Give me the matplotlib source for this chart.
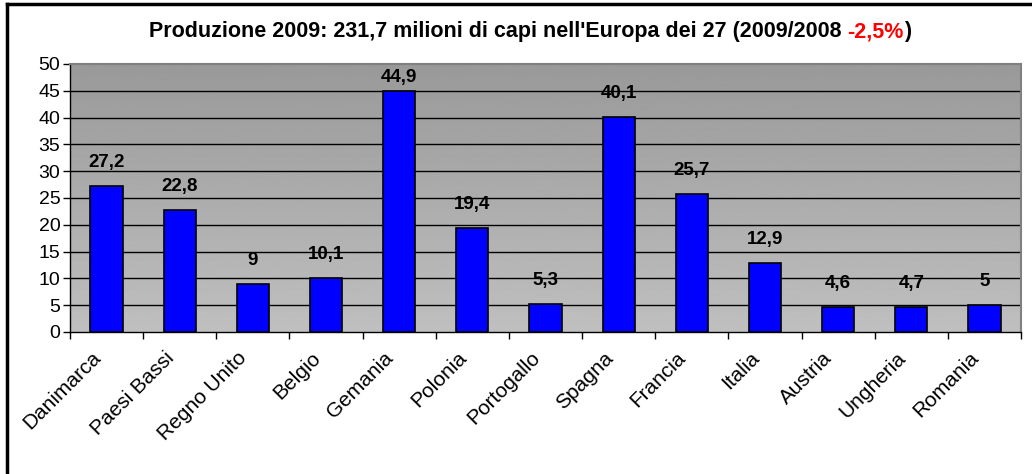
import numpy as np
import matplotlib.pyplot as plt
from matplotlib.lines import Line2D

plt.rcParams['font.family'] = ['Liberation Sans', 'DejaVu Sans']

paesi = ['Danimarca', 'Paesi Bassi', 'Regno Unito', 'Belgio', 'Gemania', 'Polonia',
         'Portogallo', 'Spagna', 'Francia', 'Italia', 'Austria', 'Ungheria', 'Romania']
valori = [27.2, 22.8, 9, 10.1, 44.9, 19.4, 5.3, 40.1, 25.7, 12.9, 4.6, 4.7, 5]
etichette = ['27,2', '22,8', '9', '10,1', '44,9', '19,4', '5,3', '40,1', '25,7', '12,9', '4,6', '4,7', '5']

W, H = 1032, 474
fig = plt.figure(figsize=(W / 100, H / 100), dpi=100)
ax = fig.add_axes([70 / W, 1 - 332 / H, (1021 - 70) / W, (332 - 64) / H])

# sfondo sfumato
grad = np.linspace(0.75, 0.60, 256).reshape(-1, 1)
ax.imshow(grad, cmap='gray', vmin=0, vmax=1, extent=[-0.5, len(paesi) - 0.5, 0, 50],
          aspect='auto', origin='lower', zorder=0)

x = np.arange(len(paesi))
# griglia (senza la linea a 50)
for yv in range(5, 50, 5):
    ax.axhline(yv, color='black', linewidth=1, zorder=1)

ax.bar(x, valori, width=0.44, color='#0000ff', edgecolor='black', linewidth=1.2, zorder=3)
for xi, v, t in zip(x, valori, etichette):
    ax.text(xi, min(v + 4.4, 47.4), t, ha='center', va='center', fontsize=13.5,
            fontweight='bold', zorder=4)

ax.set_xlim(-0.5, len(paesi) - 0.5)
ax.set_ylim(0, 50)
ax.set_yticks(range(0, 51, 5))
ax.set_xticks(np.arange(-0.5, len(paesi), 1))
ax.set_xticklabels([])
ax.tick_params(axis='x', length=5, width=1, direction='out')
ax.tick_params(axis='y', length=5, width=1, direction='out', labelsize=14, pad=2)
for xi, p in zip(x, paesi):
    ax.text(xi - 0.12, -4.3, p, rotation=45, rotation_mode='anchor', ha='right', va='center',
            fontsize=15)
for s in ['top', 'right']:
    ax.spines[s].set_color('#808080')
    ax.spines[s].set_linewidth(1.5)
ax.spines['left'].set_linewidth(1)
ax.spines['bottom'].set_linewidth(1)

# cornice esterna
fig.add_artist(Line2D([7 / W, 1], [1 - 4 / H, 1 - 4 / H], color='black', linewidth=2.5))
fig.add_artist(Line2D([7 / W, 7 / W], [0, 1 - 4 / H], color='black', linewidth=2.5))

# titolo con parte rossa
fig.canvas.draw()
r = fig.canvas.get_renderer()
parts = [("Produzione 2009: 231,7 milioni di capi nell'Europa dei 27 (2009/2008 ", 'black'),
         ('-2,5%', 'red'), (')', 'black')]
ty = 1 - 32 / H
texts = []
for s, c in parts:
    texts.append(fig.text(0, ty, s, color=c, fontsize=15.5, fontweight='bold', va='center'))
widths = [t.get_window_extent(r).width for t in texts]
x0 = (530 - sum(widths) / 2)
for t, w in zip(texts, widths):
    t.set_x(x0 / W)
    x0 += w

fig.savefig('out.png', dpi=100)
